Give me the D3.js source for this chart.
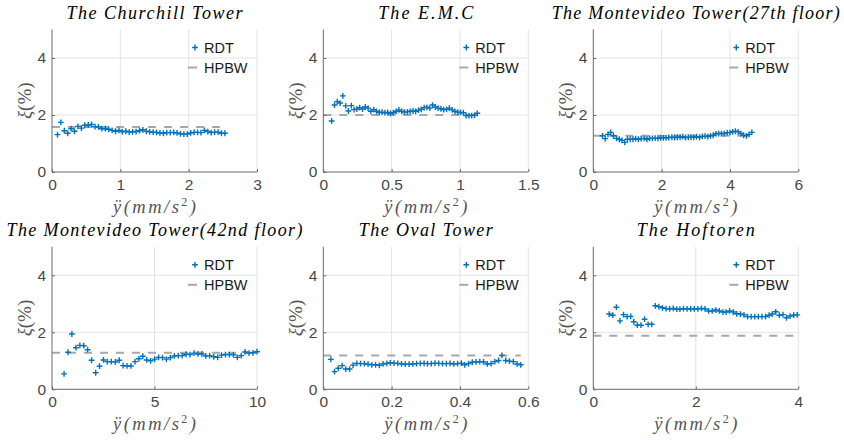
<!DOCTYPE html>
<html><head><meta charset="utf-8">
<script src="https://cdn.jsdelivr.net/npm/d3@7"></script>
<style>body{margin:0;background:#fff}</style>
</head><body><svg id="c" width="844" height="444"></svg>
<script>
// ---------- data ----------
const titles = ["The Churchill Tower","The E.M.C","The Montevideo Tower(27th floor)",
                "The Montevideo Tower(42nd floor)","The Oval Tower","The Hoftoren"];
const titleWidths = [176,95,288,296,134,118];
const xMax = [3,1.5,6,10,0.6,4];
const xTicks = [[0,1,2,3],[0,0.5,1,1.5],[0,2,4,6],[0,5,10],[0,0.2,0.4,0.6],[0,2,4]];
const yTicks = [0,2,4];
const hpbw = [1.58,2.0,1.27,1.28,1.19,1.88];
const legendLabels = ["RDT","HPBW"];

const churchillX = [0.08,0.13,0.18,0.23,0.28,0.33,0.38,0.43,0.48,0.53,0.58,0.63,0.68,0.73,0.78,0.83,0.88,0.93,0.98,1.03,1.08,1.13,1.18,1.23,1.28,1.33,1.38,1.43,1.48,1.53,1.58,1.63,1.68,1.73,1.78,1.83,1.88,1.93,1.98,2.03,2.08,2.13,2.18,2.23,2.28,2.33,2.38,2.43,2.48,2.53];
const churchillRDT = [1.31,1.74,1.45,1.36,1.52,1.43,1.60,1.54,1.64,1.65,1.67,1.59,1.58,1.52,1.52,1.50,1.46,1.43,1.46,1.41,1.43,1.40,1.41,1.42,1.45,1.48,1.43,1.41,1.40,1.39,1.37,1.36,1.38,1.38,1.39,1.37,1.34,1.33,1.33,1.37,1.39,1.39,1.38,1.46,1.42,1.38,1.40,1.40,1.36,1.36];

const emcX = [0.061,0.082,0.102,0.123,0.143,0.164,0.184,0.205,0.225,0.246,0.266,0.287,0.307,0.328,0.348,0.369,0.389,0.410,0.430,0.451,0.471,0.492,0.512,0.533,0.553,0.574,0.594,0.615,0.635,0.656,0.676,0.697,0.717,0.738,0.758,0.779,0.799,0.820,0.840,0.861,0.881,0.902,0.922,0.943,0.963,0.984,1.004,1.025,1.045,1.066,1.086,1.107,1.127];
const emcRDT = [1.79,2.35,2.47,2.42,2.67,2.32,2.14,2.33,2.19,2.21,2.26,2.21,2.28,2.24,2.13,2.19,2.13,2.09,2.10,2.08,2.09,2.06,2.08,2.13,2.18,2.13,2.10,2.11,2.13,2.14,2.13,2.17,2.20,2.26,2.27,2.24,2.35,2.28,2.24,2.22,2.19,2.20,2.24,2.18,2.13,2.10,2.09,2.08,1.98,1.98,1.98,1.99,2.06];

const mv27X = [0.27,0.35,0.43,0.51,0.59,0.68,0.76,0.84,0.92,1.00,1.08,1.16,1.24,1.32,1.40,1.49,1.57,1.65,1.73,1.81,1.89,1.97,2.05,2.13,2.21,2.30,2.38,2.46,2.54,2.62,2.70,2.78,2.86,2.94,3.02,3.11,3.19,3.27,3.35,3.43,3.51,3.59,3.67,3.75,3.83,3.92,4.00,4.08,4.16,4.24,4.32,4.40,4.48,4.56,4.64];
const mv27RDT = [1.27,1.17,1.32,1.39,1.27,1.18,1.15,1.11,1.04,1.15,1.15,1.15,1.17,1.15,1.17,1.18,1.15,1.18,1.18,1.19,1.18,1.20,1.20,1.20,1.21,1.22,1.21,1.22,1.22,1.24,1.21,1.22,1.22,1.22,1.24,1.22,1.25,1.26,1.24,1.27,1.29,1.34,1.35,1.35,1.35,1.38,1.38,1.41,1.43,1.41,1.35,1.29,1.27,1.32,1.39];

const mv42X = [0.59,0.78,0.97,1.17,1.36,1.55,1.74,1.93,2.13,2.32,2.51,2.70,2.89,3.09,3.28,3.47,3.66,3.85,4.05,4.24,4.43,4.62,4.81,5.01,5.20,5.39,5.58,5.77,5.97,6.16,6.35,6.54,6.73,6.93,7.12,7.31,7.50,7.69,7.89,8.08,8.27,8.46,8.65,8.85,9.04,9.23,9.42,9.61,9.81,10.00];
const mv42RDT = [0.54,1.30,1.94,1.46,1.54,1.53,1.39,1.02,0.58,0.81,1.03,0.97,0.97,0.96,1.02,0.83,0.82,0.82,0.97,1.07,1.16,1.03,1.00,1.06,1.12,1.11,1.06,1.11,1.17,1.18,1.18,1.23,1.22,1.27,1.24,1.24,1.17,1.18,1.14,1.12,1.20,1.22,1.22,1.21,1.12,1.18,1.31,1.27,1.28,1.32];

const ovalX = [0.022,0.033,0.044,0.055,0.066,0.077,0.087,0.098,0.109,0.120,0.131,0.142,0.153,0.164,0.175,0.186,0.196,0.207,0.218,0.229,0.240,0.251,0.262,0.273,0.284,0.295,0.305,0.316,0.327,0.338,0.349,0.360,0.371,0.382,0.393,0.404,0.414,0.425,0.436,0.447,0.458,0.469,0.480,0.491,0.502,0.513,0.523,0.534,0.545,0.556,0.567,0.578];
const ovalRDT = [1.05,0.62,0.74,0.83,0.71,0.71,0.85,0.91,0.90,0.90,0.88,0.86,0.86,0.84,0.89,0.91,0.93,0.92,0.91,0.89,0.88,0.88,0.89,0.90,0.91,0.91,0.90,0.90,0.92,0.91,0.90,0.90,0.91,0.89,0.90,0.92,0.86,0.90,0.95,0.96,0.97,0.96,0.89,0.90,0.97,1.01,1.19,1.01,0.99,0.97,0.89,0.86];

const hofX = [0.31,0.38,0.45,0.52,0.59,0.66,0.73,0.79,0.86,0.93,1.00,1.07,1.14,1.21,1.28,1.35,1.42,1.49,1.56,1.63,1.69,1.76,1.83,1.90,1.97,2.04,2.11,2.18,2.25,2.32,2.39,2.46,2.53,2.59,2.66,2.73,2.80,2.87,2.94,3.01,3.08,3.15,3.22,3.29,3.36,3.43,3.49,3.56,3.63,3.70,3.77,3.84,3.91,3.98];
const hofRDT = [2.64,2.60,2.88,2.40,2.62,2.55,2.56,2.37,2.25,2.25,2.46,2.28,2.28,2.93,2.90,2.86,2.83,2.82,2.84,2.81,2.81,2.83,2.82,2.82,2.82,2.82,2.84,2.82,2.75,2.75,2.78,2.75,2.71,2.71,2.75,2.71,2.65,2.64,2.61,2.55,2.55,2.55,2.55,2.55,2.55,2.60,2.64,2.72,2.60,2.62,2.51,2.57,2.60,2.61];

const seriesX = [churchillX, emcX, mv27X, mv42X, ovalX, hofX];
const seriesY = [churchillRDT, emcRDT, mv27RDT, mv42RDT, ovalRDT, hofRDT];

// ---------- layout ----------
const svg = d3.select("#c");
const colLeft = [52, 323.3, 593.3];
const rowTop = [29.5, 246.8];
const W = 205, H = 142.5;
const blue = "#0072BD", gray = "#a8a8a8";
const serif = "'Liberation Serif','DejaVu Serif',serif";
const sans = "'Liberation Sans',Arial,Helvetica,sans-serif";

function plus(g, x, y, r) {
  g.append("path").attr("d", `M${x-r},${y}H${x+r}M${x},${y-r}V${y+r}`)
    .attr("stroke", blue).attr("stroke-width", 1.4).attr("fill", "none");
}

for (let i = 0; i < 6; i++) {
  const L = colLeft[i % 3], T = rowTop[Math.floor(i / 3)];
  const g = svg.append("g").attr("transform", `translate(${L},${T})`);
  const x = d3.scaleLinear().domain([0, xMax[i]]).range([0, W]);
  const y = d3.scaleLinear().domain([0, 5]).range([H, 0]);

  // grid
  g.selectAll(".gx").data(xTicks[i].filter(v => v > 0)).enter().append("line")
    .attr("x1", d => x(d)).attr("x2", d => x(d)).attr("y1", 0).attr("y2", H)
    .attr("stroke", "#e3e3e3").attr("stroke-width", 1);
  g.selectAll(".gy").data(yTicks.filter(v => v > 0)).enter().append("line")
    .attr("y1", d => y(d)).attr("y2", d => y(d)).attr("x1", 0).attr("x2", W)
    .attr("stroke", "#e3e3e3").attr("stroke-width", 1);

  // HPBW line
  const xs = seriesX[i];
  g.append("line").attr("x1", x(0)).attr("x2", x(d3.max(xs)))
    .attr("y1", y(hpbw[i])).attr("y2", y(hpbw[i]))
    .attr("stroke", gray).attr("stroke-width", 2).attr("stroke-dasharray", "8,8");

  // RDT markers
  xs.forEach((xv, k) => plus(g, x(xv), y(seriesY[i][k]), 2.9));

  // axes
  const ax = g.append("g").attr("transform", `translate(0,${H})`)
    .call(d3.axisBottom(x).tickValues(xTicks[i]).tickSize(-3).tickPadding(7).tickFormat(d => String(d)));
  const ay = g.append("g")
    .call(d3.axisLeft(y).tickValues(yTicks).tickSize(-3).tickPadding(6).tickFormat(d => String(d)));
  [ax, ay].forEach(a => {
    a.select(".domain").attr("stroke", "#6a6a6a").attr("stroke-width", 1);
    a.selectAll(".tick line").attr("stroke", "#6a6a6a");
    a.selectAll(".tick text").attr("fill", "#474747").style("font-family", sans).style("font-size", "15.5px");
  });
  ax.select(".domain").attr("d", `M0,0H${W}`);
  ay.select(".domain").attr("d", `M0,${H}V0`);

  // title
  g.append("text").attr("x", W / 2).attr("y", -10.5).attr("text-anchor", "middle")
    .attr("textLength", titleWidths[i]).attr("lengthAdjust", "spacing")
    .style("font-family", serif).style("font-style", "italic").style("font-size", "18px")
    .attr("fill", "#000").text(titles[i]);

  // x label
  const xl = g.append("text").attr("x", W / 2).attr("y", H + 41).attr("text-anchor", "middle")
    .attr("textLength", 83).attr("lengthAdjust", "spacing")
    .style("font-family", serif).style("font-style", "italic").style("font-size", "18.5px")
    .attr("fill", "#555");
  xl.append("tspan").text("ÿ(mm/s");
  xl.append("tspan").attr("dy", -7).style("font-size", "12px").style("font-style", "normal").text("2");
  xl.append("tspan").attr("dy", 7).text(")");

  // y label
  const yl = g.append("text").attr("transform", `translate(-21,${H / 2}) rotate(-90)`)
    .attr("text-anchor", "middle").style("font-family", serif).style("font-size", "19px").attr("fill", "#555");
  yl.append("tspan").style("font-style", "italic").text("ξ");
  yl.append("tspan").text("(%)");

  // legend
  const lg = g.append("g");
  plus(lg, W - 62, 18, 2.9);
  lg.append("line").attr("x1", W - 69).attr("x2", W - 60).attr("y1", 38).attr("y2", 38)
    .attr("stroke", gray).attr("stroke-width", 2);
  legendLabels.forEach((t, k) => lg.append("text").attr("x", W - 53).attr("y", 18 + 20 * k).attr("dy", "0.35em")
    .style("font-family", sans).style("font-size", "14.5px").attr("fill", "#1a1a1a").text(t));
}
</script></body></html>
